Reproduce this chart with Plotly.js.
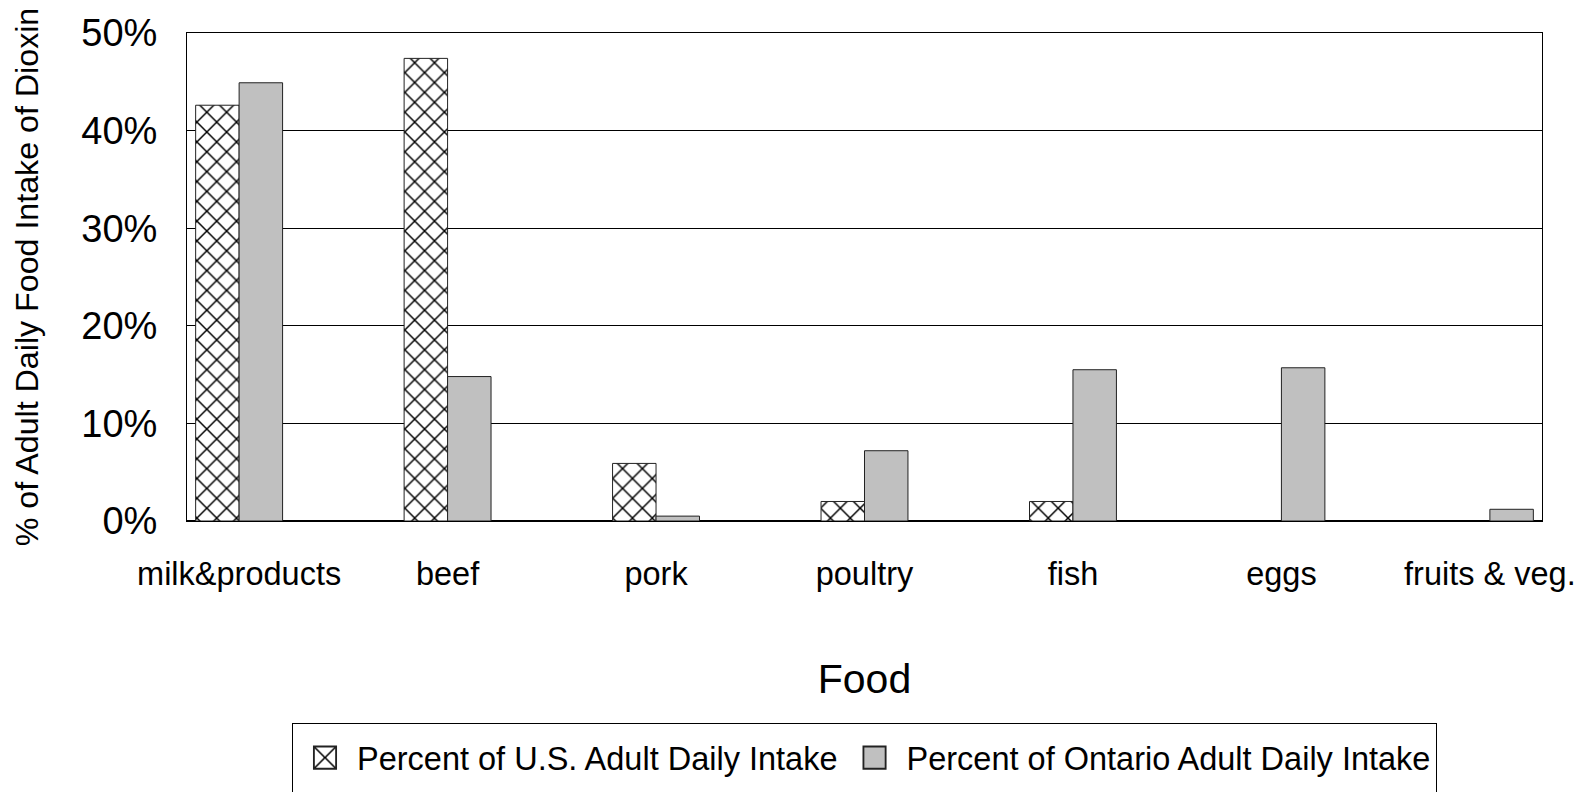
<!DOCTYPE html>
<html>
<head>
<meta charset="utf-8">
<script src="https://cdn.plot.ly/plotly-3.0.1.min.js"></script>
<style>
  html, body { margin: 0; padding: 0; background: #fff; }
  #chart { width: 1585px; height: 792px; }
</style>
</head>
<body>
<div id="chart"></div>
<script>
// Food groups along the x axis
const foods = ['milk&products', 'beef', 'pork', 'poultry', 'fish', 'eggs', 'fruits & veg.'];

// Share of adult daily dioxin intake by food group (percent)
const usIntake = [42.6, 47.4, 5.9, 2.0, 2.0, null, null];
const ontarioIntake = [44.9, 14.8, 0.5, 7.2, 15.5, 15.7, 1.2];

const seriesNames = ['Percent of U.S. Adult Daily Intake', 'Percent of Ontario Adult Daily Intake'];
const yTicks = [0, 10, 20, 30, 40, 50];

const FONT = 'Liberation Sans, Arial, sans-serif';

const traces = [
  {
    type: 'bar',
    name: seriesNames[0],
    x: foods,
    y: usIntake,
    marker: {
      color: '#ffffff',
      line: { color: '#222222', width: 1 },
      pattern: { shape: 'x', size: 14, solidity: 0.2, fgcolor: '#000000', bgcolor: '#ffffff', fillmode: 'replace' }
    },
    hoverinfo: 'x+y'
  },
  {
    type: 'bar',
    name: seriesNames[1],
    x: foods,
    y: ontarioIntake,
    marker: {
      color: '#c0c0c0',
      line: { color: '#222222', width: 1 }
    },
    hoverinfo: 'x+y'
  }
];

const layout = {
  width: 1585,
  height: 792,
  paper_bgcolor: '#ffffff',
  plot_bgcolor: '#ffffff',
  margin: { l: 187, r: 43, t: 33, b: 270 },
  barmode: 'group',
  bargap: 0.583,
  bargroupgap: 0,
  font: { family: FONT, color: '#000000' },
  showlegend: true,
  legend: {
    orientation: 'h',
    x: 0.5,
    xanchor: 'center',
    y: -0.411,
    yanchor: 'top',
    bordercolor: '#000000',
    borderwidth: 1,
    bgcolor: '#ffffff',
    font: { family: FONT, size: 32.5, color: '#000000' },
    itemwidth: 54,
    traceorder: 'normal'
  },
  xaxis: {
    type: 'category',
    range: [-0.25, 6.25],
    showline: true,
    linecolor: '#000000',
    linewidth: 1,
    mirror: true,
    ticks: '',
    showgrid: false,
    tickfont: { family: FONT, size: 32.5, color: '#000000' },
    ticklabelstandoff: 24,
    automargin: false,
    title: { text: 'Food', font: { family: FONT, size: 41, color: '#000000' }, standoff: 73 }
  },
  yaxis: {
    range: [0, 50],
    tickvals: yTicks,
    ticktext: yTicks.map(v => v + '%'),
    showline: true,
    linecolor: '#000000',
    linewidth: 1,
    mirror: true,
    ticks: 'inside',
    ticklen: 7,
    tickcolor: '#000000',
    showgrid: true,
    gridcolor: '#000000',
    gridwidth: 1,
    zeroline: true,
    zerolinecolor: '#000000',
    zerolinewidth: 2,
    tickfont: { family: FONT, size: 38, color: '#000000' },
    ticklabelstandoff: 21,
    automargin: false,
    title: { text: '% of Adult Daily Food Intake of Dioxin', font: { family: FONT, size: 32.2, color: '#000000' }, standoff: 33 }
  }
};

Plotly.newPlot('chart', traces, layout, { displayModeBar: false, staticPlot: true }).then(gd => {
  // enlarge the legend swatches, keeping their existing placement
  gd.querySelectorAll('.legend .legendpoints path').forEach(p => {
    const t = p.getAttribute('transform') || '';
    p.setAttribute('transform', (t + ' scale(1.85)').trim());
  });
  // give the legend box more room below its entries
  const bg = gd.querySelector('.legend rect.bg');
  if (bg) bg.setAttribute('height', 100);
  const box = gd.querySelector('.legend .scrollbox');
  if (box) box.setAttribute('transform', 'translate(0,6)');
});
</script>
</body>
</html>
